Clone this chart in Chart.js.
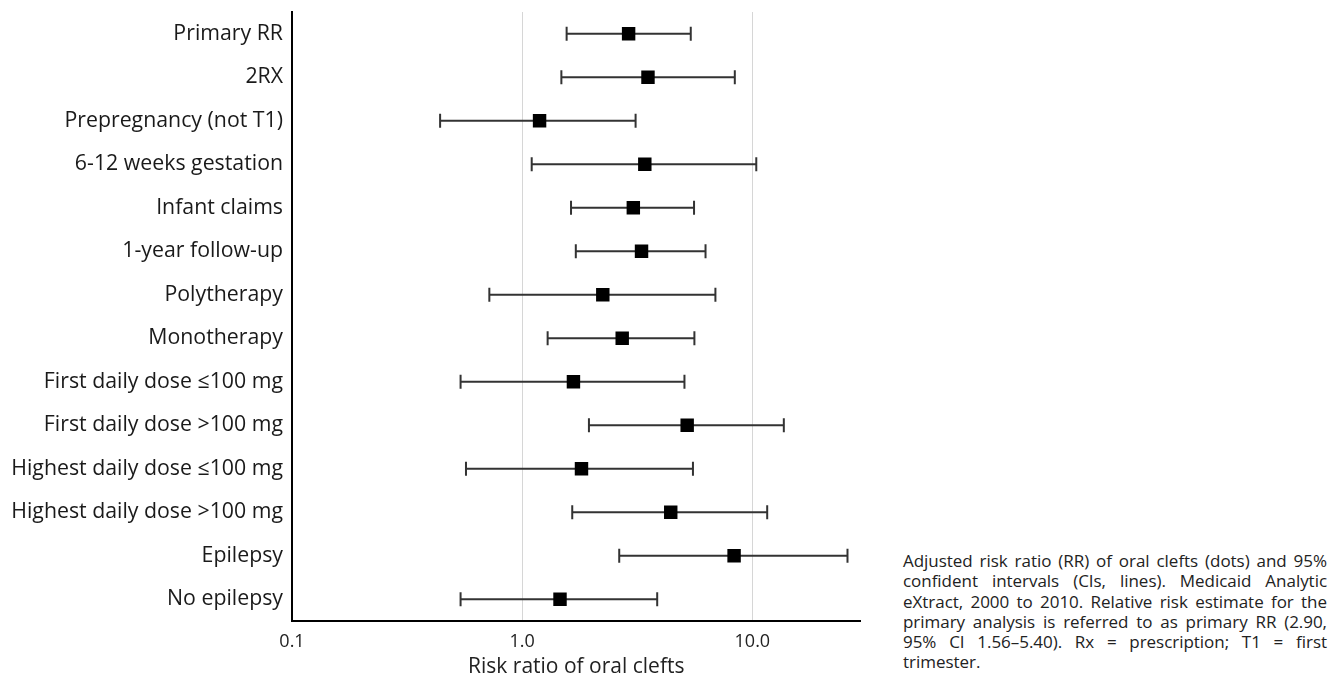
<!DOCTYPE html>
<html>
<head>
<meta charset="utf-8">
<script src="https://cdn.jsdelivr.net/npm/chart.js@4.4.1/dist/chart.umd.min.js"></script>
<style>
  html, body { margin: 0; padding: 0; background: #fff; }
  body { width: 1341px; height: 678px; position: relative; overflow: hidden; font-family: "Open Sans", "Noto Sans", sans-serif; }
  #wrap { position: absolute; left: 0; top: 0; width: 870px; height: 678px; }
  #caption { position: absolute; left: 903px; top: 551px; width: 424px; font-size: 17px; line-height: 20.3px; color: #222; }
  #caption div { white-space: nowrap; text-align: justify; text-align-last: justify; }
  #caption div.last { text-align-last: left; }
</style>
</head>
<body>
<div id="wrap"><canvas id="c"></canvas></div>
<div id="caption">
  <div>Adjusted risk ratio (RR) of oral clefts (dots) and 95%</div>
  <div>confident intervals (CIs, lines). Medicaid Analytic</div>
  <div>eXtract, 2000 to 2010. Relative risk estimate for the</div>
  <div>primary analysis is referred to as primary RR (2.90,</div>
  <div>95% CI 1.56–5.40). Rx = prescription; T1 = first</div>
  <div class="last">trimester.</div>
</div>
<script>
const categories = [
  "Primary RR", "2RX", "Prepregnancy (not T1)", "6-12 weeks gestation",
  "Infant claims", "1-year follow-up", "Polytherapy", "Monotherapy",
  "First daily dose \u2264100 mg", "First daily dose >100 mg",
  "Highest daily dose \u2264100 mg", "Highest daily dose >100 mg",
  "Epilepsy", "No epilepsy"
];
const rr    = [2.90, 3.52, 1.19, 3.41, 3.04, 3.30, 2.24, 2.72, 1.67, 5.21, 1.81, 4.42, 8.33, 1.46];
const lower = [1.56, 1.48, 0.44, 1.10, 1.63, 1.71, 0.72, 1.29, 0.54, 1.95, 0.57, 1.65, 2.64, 0.54];
const upper = [5.40, 8.39, 3.11, 10.4, 5.58, 6.26, 6.91, 5.60, 5.07, 13.7, 5.52, 11.6, 25.9, 3.86];
const xTicks = [0.1, 1, 10];
const xMin = 0.1, xMax = 29.5;
const xTitle = "Risk ratio of oral clefts";

// fit caption lines: first line fills the width naturally (tight spacing)
(function () {
  const cap = document.getElementById('caption');
  const first = cap.querySelector('div');
  const probe = document.createElement('span');
  probe.style.whiteSpace = 'nowrap';
  probe.textContent = first.textContent;
  first.textContent = '';
  first.appendChild(probe);
  const w = probe.getBoundingClientRect().width;
  const n = probe.textContent.length;
  const ls = (422 - w) / n;
  cap.style.letterSpacing = Math.min(ls, 0.3).toFixed(3) + 'px';
  first.textContent = probe.textContent;
})();

const datasets = [{
  type: 'scatter',
  data: rr.map((v, i) => ({ x: v, y: i })),
  pointStyle: 'rect',
  pointRadius: 9.5,
  backgroundColor: '#000',
  borderColor: '#000',
  borderWidth: 0,
  order: 0
}];
categories.forEach((c, i) => {
  datasets.push({
    type: 'line',
    data: [{ x: lower[i], y: i }, { x: upper[i], y: i }],
    borderColor: '#333',
    borderWidth: 2,
    pointStyle: 'line',
    pointRotation: 90,
    pointRadius: 7,
    pointBorderColor: '#333',
    pointBorderWidth: 2,
    fill: false,
    order: 1
  });
});

new Chart(document.getElementById('c'), {
  data: { datasets },
  options: {
    responsive: true,
    maintainAspectRatio: false,
    animation: false,
    layout: { padding: { top: 12, right: 0, bottom: 0, left: 0 } },
    plugins: { legend: { display: false }, tooltip: { enabled: false } },
    scales: {
      x: {
        type: 'logarithmic',
        min: xMin, max: xMax,
        afterBuildTicks: s => { s.ticks = xTicks.map(v => ({ value: v })); },
        afterFit: s => { s.height = 57; },
        ticks: {
          callback: v => Number(v).toFixed(1),
          font: { family: "Open Sans", size: 18 },
          color: '#222',
          padding: 10,
          maxRotation: 0,
          autoSkip: false
        },
        grid: {
          color: c => (c.tick && c.tick.value === 0.1) ? 'rgba(0,0,0,0)' : '#d6d6d6',
          lineWidth: 1,
          drawTicks: false
        },
        border: { display: true, color: '#000', width: 2 },
        title: {
          display: true, text: xTitle,
          font: { family: "Open Sans", size: 21 },
          color: '#222',
          padding: { top: 0, bottom: -2 }
        }
      },
      y: {
        type: 'linear',
        reverse: true,
        min: -0.5, max: 13.5,
        afterBuildTicks: s => { s.ticks = categories.map((c, i) => ({ value: i })); },
        afterFit: s => { s.width = 292; },
        ticks: {
          callback: v => categories[v],
          font: { family: "Open Sans", size: 21.3, lineHeight: 0 },
          color: '#1a1a1a',
          padding: 9,
          autoSkip: false
        },
        grid: { display: false, drawTicks: false },
        border: { display: true, color: '#000', width: 2 }
      }
    }
  }
});
</script>
</body>
</html>
